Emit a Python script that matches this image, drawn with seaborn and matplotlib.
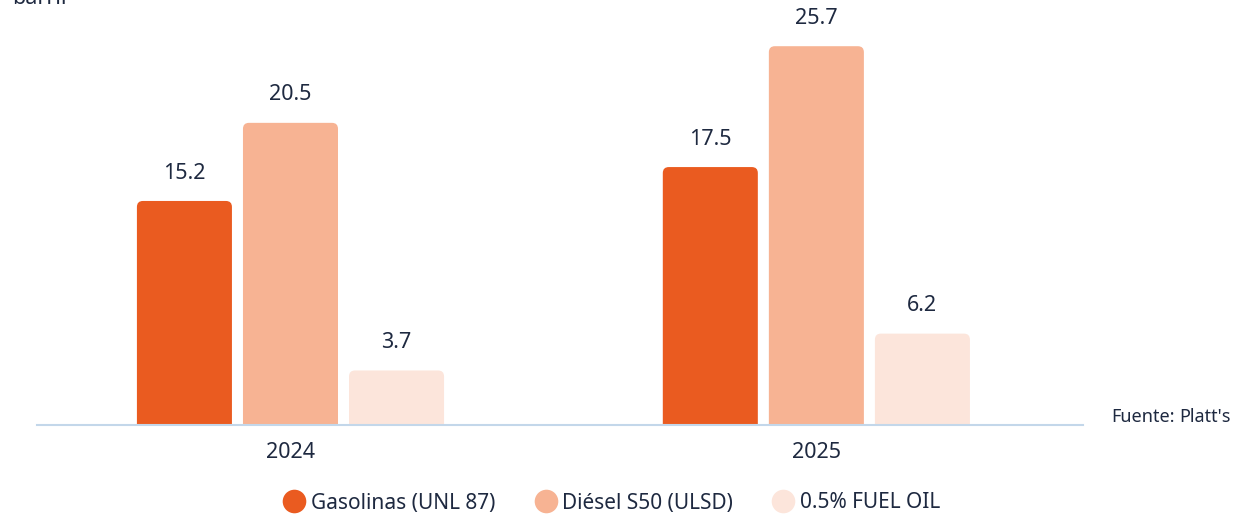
import seaborn as sns
import matplotlib.pyplot as plt
import pandas as pd
from matplotlib.patches import FancyBboxPatch
from matplotlib.lines import Line2D

# datos del grafico
years = ["2024", "2025"]
products = ["Gasolinas (UNL 87)", "Diésel S50 (ULSD)", "0.5% FUEL OIL"]
gasolinas = [15.2, 17.5]
diesel = [20.5, 25.7]
fuel_oil = [3.7, 6.2]

colors = ["#EA5B20", "#F7B393", "#FCE5DB"]
text_color = "#1E2940"
axis_color = "#C3D7EA"

sns.set_theme(style="white")
plt.rcParams['font.family'] = ['Noto Sans', 'DejaVu Sans']

rows = []
for i, y in enumerate(years):
    rows.append({"year": y, "product": products[0], "value": gasolinas[i]})
    rows.append({"year": y, "product": products[1], "value": diesel[i]})
    rows.append({"year": y, "product": products[2], "value": fuel_oil[i]})
df = pd.DataFrame(rows)

fig = plt.figure(figsize=(12.49, 5.18), dpi=100)
ax = fig.add_axes([37 / 1249, 93 / 518, (1083 - 37) / 1249, 412.7 / 518])

sns.barplot(data=df, x="year", y="value", hue="product", hue_order=products,
            palette=colors, width=0.605, gap=0.104, saturation=1,
            legend=False, ax=ax)

ax.set_xlim(-0.482, 1.507)
ax.set_ylim(0, 28)

# esquinas redondeadas arriba
px_x = (1083 - 37) / (1.507 + 0.482)
px_y = 412.7 / 28
r = 6 / px_x
aspect = px_x / px_y
for p in list(ax.patches):
    x0, y0 = p.get_x(), p.get_y()
    w, h = p.get_width(), p.get_height()
    fc = p.get_facecolor()
    p.remove()
    ext = 8 / px_y
    ax.add_patch(FancyBboxPatch((x0, y0 - ext), w, h + ext,
                                boxstyle=f"round,pad=0,rounding_size={r}",
                                mutation_aspect=aspect, facecolor=fc,
                                edgecolor="none", clip_on=True))

# etiquetas de valor
for j, vals in enumerate([gasolinas, diesel, fuel_oil]):
    for i, v in enumerate(vals):
        xc = i - 0.605 / 2 + 0.605 / 6 * (2 * j + 1)
        ax.annotate(f"{v:.1f}", (xc, v), xytext=(0, 12.5), textcoords="offset points",
                    ha="center", va="bottom", fontsize=15.5, color=text_color)

sns.despine(ax=ax, left=True)
ax.spines["bottom"].set_color(axis_color)
ax.spines["bottom"].set_linewidth(1.5)
ax.set_yticks([])
ax.set_xlabel("")
ax.set_ylabel("")
ax.tick_params(axis="x", length=0, labelsize=15.5, labelcolor=text_color, pad=12)
ax.set_xticks([0.5], minor=True)
ax.tick_params(axis="x", which="minor", direction="in", length=7, width=1.5,
               color=axis_color)

# unidad arriba a la izquierda, cortada en el borde como en el original
fig.text(12 / 1249, 1 - 4 / 518, "barril", fontsize=15.5, color=text_color,
         ha="left", va="baseline")

src = fig.text(1111 / 1249, 1 - 417 / 518, "Fuente:", fontsize=13, color=text_color,
               fontweight="semibold", ha="left", va="center")
fig.canvas.draw()
bb = src.get_window_extent().transformed(fig.transFigure.inverted())
fig.text(bb.x1 + 5 / 1249, 1 - 417 / 518, "Platt's", fontsize=13, color=text_color,
         ha="left", va="center")

handles = [Line2D([], [], marker="o", linestyle="none", markersize=17,
                  markerfacecolor=c, markeredgecolor="none") for c in colors]
fig.legend(handles, products, loc="center", bbox_to_anchor=(0.49, 1 - 503 / 518),
           ncol=3, frameon=False, fontsize=15, labelcolor=text_color,
           handletextpad=0.3, columnspacing=1.9, handlelength=1.0)

fig.savefig("out.png", dpi=100)
